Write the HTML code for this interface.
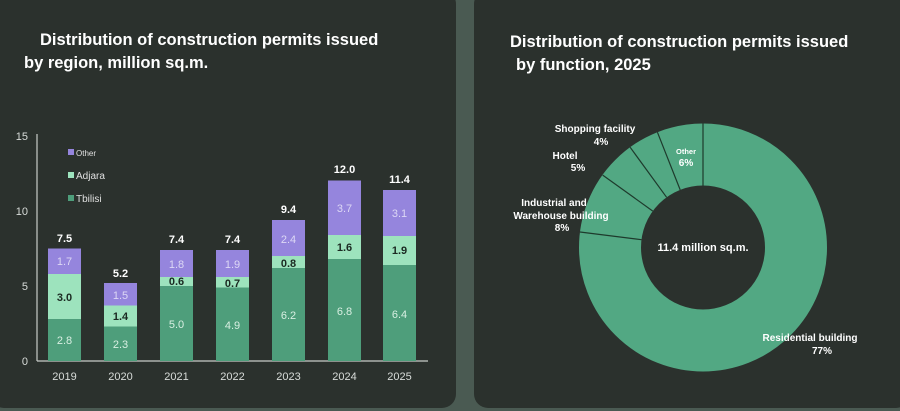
<!DOCTYPE html>
<html><head><meta charset="utf-8"><style>
html,body{margin:0;padding:0;background:#4a5a52;width:900px;height:411px;overflow:hidden}
svg{display:block}
text{font-family:"Liberation Sans",sans-serif}
</style></head><body>
<svg width="900" height="411" viewBox="0 0 900 411">
<rect x="0" y="0" width="900" height="411" fill="#4a5a52"/>
<rect x="-10" y="-10" width="466" height="418" rx="14" fill="#2b312d"/>
<rect x="474" y="-10" width="436" height="418" rx="14" fill="#2b312d"/>
<g fill="#fff" font-weight="bold" font-size="16.5">
<text x="40" y="45">Distribution of construction permits issued</text>
<text x="24" y="68">by region, million sq.m.</text>
<text x="510" y="47">Distribution of construction permits issued</text>
<text x="516" y="70">by function, 2025</text>
</g>
<!-- axes -->
<g stroke="#c8ccc9" stroke-width="1.2"><line x1="37" y1="134" x2="37" y2="361"/><line x1="37" y1="361" x2="428" y2="361"/></g>
<g fill="#d8dcd9" font-size="11" text-anchor="end">
<text x="28" y="365">0</text><text x="28" y="290">5</text><text x="28" y="215">10</text><text x="28" y="140">15</text></g>
<!-- legend -->
<rect x="68" y="149" width="6" height="6" fill="#9585dd"/><text x="76" y="156" font-size="8" fill="#e0e0e0">Other</text>
<rect x="68" y="172" width="6" height="6" fill="#9de3bd"/><text x="76" y="179" font-size="10" fill="#e0e0e0">Adjara</text>
<rect x="68" y="195" width="6" height="6" fill="#4e9e7b"/><text x="76" y="202" font-size="10" fill="#e0e0e0">Tbilisi</text>
<g id="bars" font-size="11" text-anchor="middle">
<!-- 2019 x48 -->
<rect x="48" y="319" width="33" height="42" fill="#4e9e7b"/><rect x="48" y="274" width="33" height="45" fill="#9de3bd"/><rect x="48" y="248.5" width="33" height="25.5" fill="#9585dd"/>
<text x="64.5" y="344" fill="#d8efe2">2.8</text><text x="64.5" y="301" fill="#1b2a22" font-weight="bold">3.0</text><text x="64.5" y="265" fill="#ddd8f5">1.7</text><text x="64.5" y="242" fill="#fff" font-weight="bold">7.5</text><text x="64.5" y="380" fill="#d8dcd9">2019</text>
<!-- 2020 x104 -->
<rect x="104" y="326.5" width="33" height="34.5" fill="#4e9e7b"/><rect x="104" y="305.5" width="33" height="21" fill="#9de3bd"/><rect x="104" y="283" width="33" height="22.5" fill="#9585dd"/>
<text x="120.5" y="348" fill="#d8efe2">2.3</text><text x="120.5" y="320" fill="#1b2a22" font-weight="bold">1.4</text><text x="120.5" y="299" fill="#ddd8f5">1.5</text><text x="120.5" y="277" fill="#fff" font-weight="bold">5.2</text><text x="120.5" y="380" fill="#d8dcd9">2020</text>
<!-- 2021 x160 -->
<rect x="160" y="286" width="33" height="75" fill="#4e9e7b"/><rect x="160" y="277" width="33" height="9" fill="#9de3bd"/><rect x="160" y="250" width="33" height="27" fill="#9585dd"/>
<text x="176.5" y="328" fill="#d8efe2">5.0</text><text x="176.5" y="285" fill="#1b2a22" font-weight="bold">0.6</text><text x="176.5" y="268" fill="#ddd8f5">1.8</text><text x="176.5" y="243" fill="#fff" font-weight="bold">7.4</text><text x="176.5" y="380" fill="#d8dcd9">2021</text>
<!-- 2022 x216 -->
<rect x="216" y="287.5" width="33" height="73.5" fill="#4e9e7b"/><rect x="216" y="277" width="33" height="10.5" fill="#9de3bd"/><rect x="216" y="250" width="33" height="27" fill="#9585dd"/>
<text x="232.5" y="329" fill="#d8efe2">4.9</text><text x="232.5" y="287" fill="#1b2a22" font-weight="bold">0.7</text><text x="232.5" y="268" fill="#ddd8f5">1.9</text><text x="232.5" y="243" fill="#fff" font-weight="bold">7.4</text><text x="232.5" y="380" fill="#d8dcd9">2022</text>
<!-- 2023 x272 -->
<rect x="272" y="268" width="33" height="93" fill="#4e9e7b"/><rect x="272" y="256" width="33" height="12" fill="#9de3bd"/><rect x="272" y="220" width="33" height="36" fill="#9585dd"/>
<text x="288.5" y="319" fill="#d8efe2">6.2</text><text x="288.5" y="267" fill="#1b2a22" font-weight="bold">0.8</text><text x="288.5" y="243" fill="#ddd8f5">2.4</text><text x="288.5" y="213" fill="#fff" font-weight="bold">9.4</text><text x="288.5" y="380" fill="#d8dcd9">2023</text>
<!-- 2024 x328 -->
<rect x="328" y="259" width="33" height="102" fill="#4e9e7b"/><rect x="328" y="235" width="33" height="24" fill="#9de3bd"/><rect x="328" y="180.5" width="33" height="54.5" fill="#9585dd"/>
<text x="344.5" y="315" fill="#d8efe2">6.8</text><text x="344.5" y="251" fill="#1b2a22" font-weight="bold">1.6</text><text x="344.5" y="212" fill="#ddd8f5">3.7</text><text x="344.5" y="173" fill="#fff" font-weight="bold">12.0</text><text x="344.5" y="380" fill="#d8dcd9">2024</text>
<!-- 2025 x383 -->
<rect x="383" y="265" width="33" height="96" fill="#4e9e7b"/><rect x="383" y="236" width="33" height="29" fill="#9de3bd"/><rect x="383" y="190" width="33" height="46" fill="#9585dd"/>
<text x="399.5" y="318" fill="#d8efe2">6.4</text><text x="399.5" y="254" fill="#1b2a22" font-weight="bold">1.9</text><text x="399.5" y="217" fill="#ddd8f5">3.1</text><text x="399.5" y="183" fill="#fff" font-weight="bold">11.4</text><text x="399.5" y="380" fill="#d8dcd9">2025</text>
</g>
<!-- donut -->
<circle cx="703" cy="247.5" r="93" fill="none" stroke="#52a883" stroke-width="62"/>
<g stroke="#1e3a2c" stroke-width="1.2">
<line x1="703" y1="185.5" x2="703" y2="123.5"/>
<line x1="641.5" y1="239.7" x2="580" y2="232"/>
<line x1="652.8" y1="211.1" x2="602.7" y2="175.1"/>
<line x1="666.6" y1="197.3" x2="630.1" y2="147.2"/>
<line x1="680.2" y1="189.9" x2="657.4" y2="132.2"/>
</g>
<g fill="#fff" font-weight="bold" font-size="10" text-anchor="middle">
<text x="703" y="251" font-size="11">11.4 million sq.m.</text>
<text x="686" y="154" font-size="7.5">Other</text><text x="686" y="166">6%</text>
<text x="595" y="132">Shopping facility</text><text x="601" y="145">4%</text>
<text x="565" y="159">Hotel</text><text x="578" y="171">5%</text>
<text x="554" y="206">Industrial and</text><text x="561" y="219">Warehouse building</text><text x="562" y="231">8%</text>
<text x="810" y="341">Residential building</text><text x="822" y="354">77%</text>
</g>
</svg>
</body></html>
